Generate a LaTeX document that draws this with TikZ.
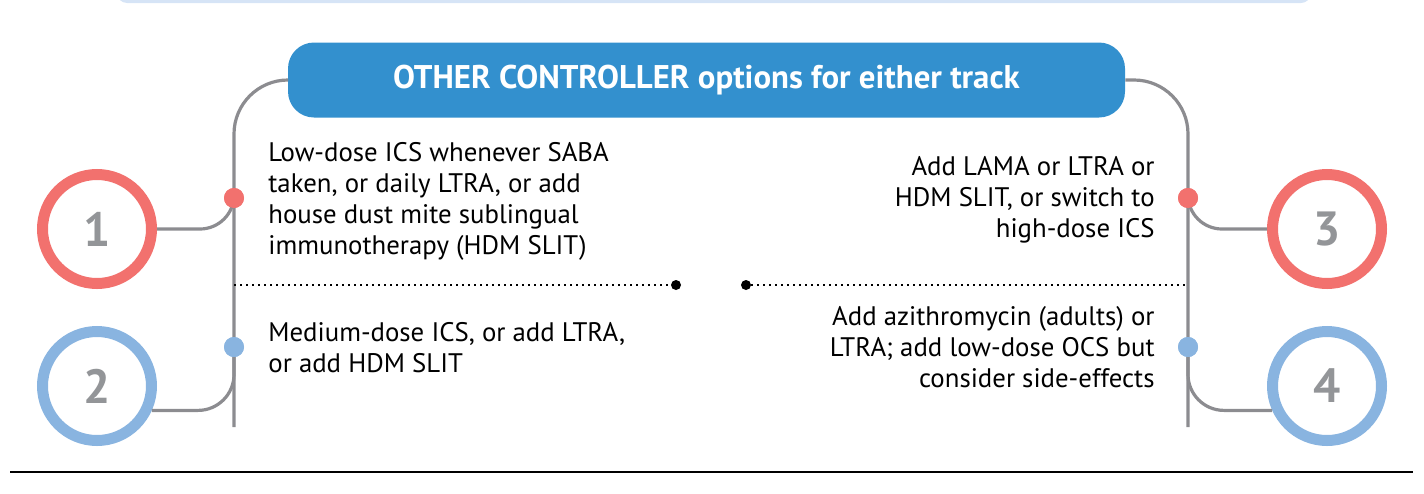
\documentclass[tikz,border=0pt]{standalone}
\usepackage{fontspec}
\setmainfont{PT Sans}
\definecolor{bandblue}{HTML}{D6E4F6}
\definecolor{headblue}{HTML}{3390CE}
\definecolor{stepred}{HTML}{F2716E}
\definecolor{stepblue}{HTML}{89B4E0}
\definecolor{linegray}{HTML}{8C8C90}
\definecolor{numgray}{HTML}{939598}
\begin{document}
\begin{tikzpicture}[
            x=0.5pt, y=-0.5pt,
            conn/.style={draw=linegray, line width=1.6pt},
            stepring/.style={
                circle, draw=#1, line width=5.5pt, fill=white,
                minimum size=54.5pt, inner sep=0pt,
                text=numgray, font=\fontsize{24}{24}\selectfont\bfseries,
            },
            pin/.style={
                circle, fill=#1, minimum size=10pt,
                inner sep=0pt, outer sep=0pt,
            },
            enddot/.style={
                circle, fill=black, minimum size=5pt,
                inner sep=0pt, outer sep=0pt,
            },
            option/.style={
                inner sep=0pt, font=\fontsize{13.4}{15.5}\selectfont,
            },
        ]
        \useasboundingbox (0, 0) rectangle (1424, 493);

        % band at the top
        \fill[bandblue, rounded corners=5pt] (117, -40) rectangle (1311, 3);

        % header
        \node[fill=headblue, rounded corners=13pt, minimum width=418.5pt,
              minimum height=37.5pt, inner sep=0pt, text=white,
              font=\fontsize{16.4}{16.4}\selectfont\bfseries] (hdr) at (706.5, 80)
              {OTHER CONTROLLER options for either track};

        % ends of the two tracks
        \coordinate (lend) at (234, 427);
        \coordinate (rend) at (1188, 427);
        \coordinate (ml) at (234, 285);
        \coordinate (mr) at (1188, 285);

        \draw[conn, rounded corners=27pt] (hdr.west) -| (lend);
        \draw[conn, rounded corners=27pt] (hdr.east) -| (rend);

        % steps
        \node[stepring=stepred] (c1) at (97, 229) {1};
        \node[stepring=stepblue] (c2) at (97, 386) {2};
        \node[stepring=stepred] (c3) at (1327, 229) {3};
        \node[stepring=stepblue] (c4) at (1327, 386) {4};

        \node[pin=stepred] (d1) at (234, 198) {};
        \node[pin=stepblue] (d2) at (234, 347) {};
        \node[pin=stepred] (d3) at (1188, 198) {};
        \node[pin=stepblue] (d4) at (1188, 347) {};

        \draw[conn, rounded corners=17pt] (c1.east) -| (d1.south);
        \draw[conn, rounded corners=18pt] (c2.-24) -| (d2.south);
        \draw[conn, rounded corners=17pt] (c3.west) -| (d3.south);
        \draw[conn, rounded corners=18pt] (c4.-156) -| (d4.south);

        % redraw the pins on top
        \node[pin=stepred] at (d1) {};
        \node[pin=stepblue] at (d2) {};
        \node[pin=stepred] at (d3) {};
        \node[pin=stepblue] at (d4) {};

        % middle divider
        \node[enddot] (m1) at (676, 285) {};
        \node[enddot] (m2) at (746, 285) {};
        \draw[dotted, line width=1pt] (ml) -- (m1);
        \draw[dotted, line width=1pt] (m2) -- (mr);

        % texts
        \node[option, anchor=west, align=left] (t1) at (268, 201)
            {Low-dose ICS whenever SABA\\ taken, or daily LTRA, or add\\
             house dust mite sublingual\\ immunotherapy (HDM SLIT)};
        \node[option, anchor=west, align=left] (t2) at (268, 348)
            {Medium-dose ICS, or add LTRA,\\ or add HDM SLIT};
        \node[option, anchor=east, align=right] (t3) at (1155, 200)
            {Add LAMA or LTRA or\\ HDM SLIT, or switch to\\ high-dose ICS};
        \node[option, anchor=east, align=right] (t4) at (1155, 347)
            {Add azithromycin (adults) or\\ LTRA; add low-dose OCS but\\
             consider side-effects};

        % rule at the bottom
        \coordinate (bl) at (10, 472);
        \coordinate (br) at (1413, 472);
        \draw[line width=0.8pt] (bl) -- (br);
    \end{tikzpicture}
\end{document}
